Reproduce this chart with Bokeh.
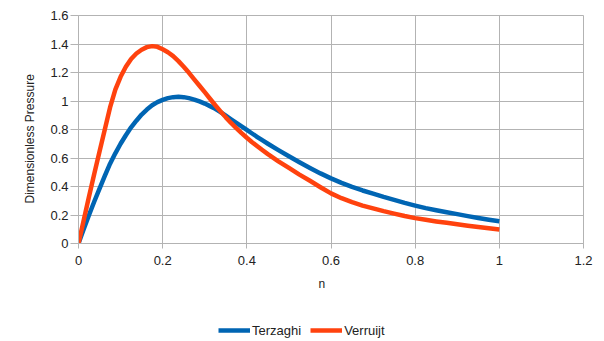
from bokeh.plotting import figure
from bokeh.layouts import column
from bokeh.models import Range1d, FixedTicker, Legend, LegendItem, Title, ColumnDataSource
from bokeh.embed import file_html
from bokeh.resources import INLINE

# ---- data ----
n = [0.0000, 0.0125, 0.0250, 0.0375, 0.0500, 0.0625, 0.0750, 0.0875, 0.1000, 0.1125,
     0.1250, 0.1375, 0.1500, 0.1625, 0.1750, 0.1875, 0.2000, 0.2125, 0.2250, 0.2375,
     0.2500, 0.2625, 0.2750, 0.2875, 0.3000, 0.3125, 0.3250, 0.3375, 0.3500, 0.3625,
     0.3750, 0.3875, 0.4000, 0.4125, 0.4250, 0.4375, 0.4500,
     0.475, 0.500, 0.525, 0.550, 0.575, 0.600, 0.625, 0.650, 0.675, 0.700, 0.725,
     0.750, 0.775, 0.800, 0.825, 0.850, 0.875, 0.900, 0.925, 0.950, 0.975, 1.000]
terzaghi = [0.000, 0.102, 0.200, 0.295, 0.385, 0.475, 0.560, 0.633, 0.700, 0.760,
            0.815, 0.862, 0.905, 0.940, 0.970, 0.992, 1.008, 1.020, 1.027, 1.029,
            1.027, 1.020, 1.010, 0.997, 0.982, 0.964, 0.945, 0.922, 0.897, 0.872,
            0.847, 0.822, 0.797, 0.772, 0.747, 0.723, 0.700,
            0.655, 0.612, 0.570, 0.530, 0.492, 0.457, 0.425, 0.397, 0.372, 0.350, 0.327,
            0.306, 0.285, 0.266, 0.248, 0.233, 0.219, 0.206, 0.192, 0.179, 0.167, 0.156]
verruijt = [0.000, 0.165, 0.330, 0.490, 0.645, 0.800, 0.955, 1.080, 1.170, 1.240,
            1.295, 1.333, 1.360, 1.378, 1.385, 1.380, 1.363, 1.342, 1.315, 1.280,
            1.240, 1.198, 1.152, 1.107, 1.062, 1.016, 0.970, 0.927, 0.885, 0.846,
            0.810, 0.775, 0.742, 0.711, 0.682, 0.654, 0.627,
            0.577, 0.530, 0.483, 0.440, 0.395, 0.352, 0.318, 0.290, 0.266, 0.246, 0.227,
            0.210, 0.193, 0.178, 0.166, 0.155, 0.145, 0.135, 0.125, 0.116, 0.107, 0.098]
series_names = ["Terzaghi", "Verruijt"]
series_colors = ["#0065b3", "#ff420e"]
x_ticks = [0, 0.2, 0.4, 0.6, 0.8, 1, 1.2]
x_tick_labels = ["0", "0.2", "0.4", "0.6", "0.8", "1", "1.2"]
y_ticks = [0, 0.2, 0.4, 0.6, 0.8, 1, 1.2, 1.4, 1.6]
y_tick_labels = ["0", "0.2", "0.4", "0.6", "0.8", "1", "1.2", "1.4", "1.6"]

FONT = "Liberation Sans"
GRID = "#b3b3b3"
TXT = "#222222"
LW = 4.5

p = figure(width=604, height=305, output_backend="svg", toolbar_location=None,
           x_range=Range1d(0, 1.2), y_range=Range1d(0, 1.6),
           min_border_left=78, min_border_right=21, min_border_top=15, min_border_bottom=62)
p.outline_line_color = GRID
p.background_fill_color = "white"
p.border_fill_color = "white"

src = ColumnDataSource(dict(n=n, terzaghi=terzaghi, verruijt=verruijt))
p.line("n", "terzaghi", source=src, line_color=series_colors[0], line_width=LW, line_join="round")
p.line("n", "verruijt", source=src, line_color=series_colors[1], line_width=LW, line_join="round")

for ax, ticks, labels in ((p.xaxis[0], x_ticks, x_tick_labels), (p.yaxis[0], y_ticks, y_tick_labels)):
    ax.ticker = FixedTicker(ticks=ticks)
    ax.major_label_overrides = {t: l for t, l in zip(ticks, labels)}
    ax.axis_line_color = GRID
    ax.major_tick_line_color = GRID
    ax.minor_tick_line_color = None
    ax.major_tick_in = 0
    ax.major_label_text_font = FONT
    ax.major_label_text_font_size = "13px"
    ax.major_label_text_color = TXT

p.xaxis.major_tick_out = 5
p.xaxis.major_label_standoff = 7
p.yaxis.major_tick_out = 8
p.yaxis.major_label_standoff = 2

p.xgrid.ticker = FixedTicker(ticks=x_ticks)
p.ygrid.ticker = FixedTicker(ticks=y_ticks)
p.xgrid.grid_line_color = GRID
p.ygrid.grid_line_color = GRID

ylab = Title(text="Dimensionless Pressure", align="left", offset=40,
             text_font=FONT, text_font_size="12px", text_font_style="normal",
             text_color=TXT, standoff=21)
p.add_layout(ylab, "left")
xlab = Title(text="n", align="left", offset=240,
             text_font=FONT, text_font_size="12px", text_font_style="normal",
             text_color=TXT, standoff=15)
p.add_layout(xlab, "below")

# legend strip below the chart (its series lie outside its range, only the legend shows)
lg = figure(width=604, height=36, output_backend="svg", toolbar_location=None,
            x_range=Range1d(0, 1.2), y_range=Range1d(-2, -1),
            x_axis_location=None, y_axis_location=None,
            min_border_left=78, min_border_right=21, min_border_top=15, min_border_bottom=0)
lg.outline_line_color = None
lg.xgrid.visible = False
lg.ygrid.visible = False
lr1 = lg.line("n", "terzaghi", source=src, line_color=series_colors[0], line_width=LW)
lr2 = lg.line("n", "verruijt", source=src, line_color=series_colors[1], line_width=LW)
legend = Legend(items=[LegendItem(label=series_names[0], renderers=[lr1]),
                       LegendItem(label=series_names[1], renderers=[lr2])],
                orientation="horizontal", location=(140, 1),
                glyph_width=32, glyph_height=20, label_standoff=2, spacing=9,
                padding=0, margin=0, border_line_color=None, background_fill_alpha=0,
                label_text_font=FONT, label_text_font_size="13px", label_text_color=TXT)
lg.add_layout(legend)

layout = column(p, lg, spacing=0)
open("out.html", "w").write(file_html(layout, INLINE))
